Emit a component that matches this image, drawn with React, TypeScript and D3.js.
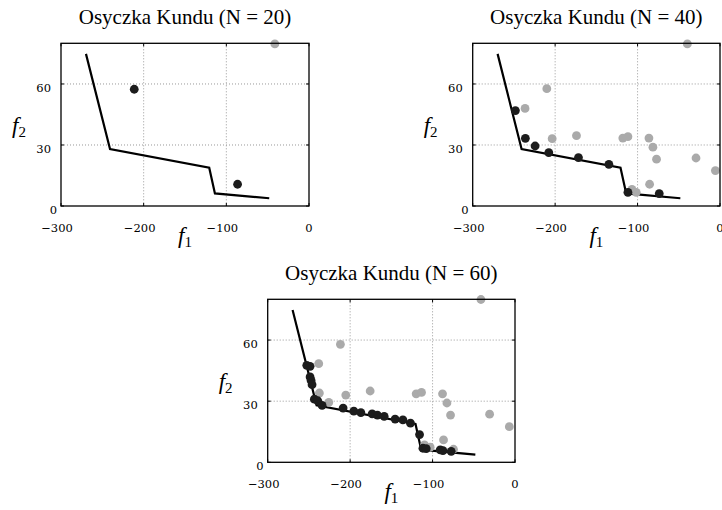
import * as d3 from "d3";

// Pareto front (same in every panel)
const frontF1 = [-269.8, -240.7, -120.7, -113.8, -48.1];
const frontF2 = [74.8, 28.0, 18.8, 6.2, 3.8];

// N = 20
const n20DarkF1 = [-211.4, -86.4];
const n20DarkF2 = [57.4, 10.7];
const n20GrayF1 = [-41.3];
const n20GrayF2 = [79.7];

// N = 40
const n40DarkF1 = [-248.2, -236.1, -224.3, -207.7, -171.7, -134.8, -111.7, -73.7];
const n40DarkF2 = [46.9, 33.3, 29.5, 26.2, 23.8, 20.5, 6.7, 6.1];
const n40GrayF1 = [-39.6, -210.1, -236.5, -203.6, -174.1, -117.9, -111.7, -86.2, -81.4, -77.0, -29.1, -5.6, -85.4, -106.8, -101.6];
const n40GrayF2 = [79.7, 57.7, 48.0, 33.1, 34.6, 33.4, 34.1, 33.4, 28.9, 23.0, 23.6, 17.4, 10.7, 8.2, 6.7];

// N = 60
const n60DarkF1 = [-252.6, -248.6, -248.6, -247.4, -246.2, -243.4, -239.3, -234.0, -208.5, -195.5, -187.0, -173.3, -166.9, -158.7, -145.4, -136.0, -126.8, -115.8, -111.7, -107.7, -90.7, -87.4, -77.4];
const n60DarkF2 = [47.6, 47.1, 41.9, 40.2, 38.1, 31.0, 30.2, 27.9, 26.6, 25.1, 24.4, 23.8, 23.2, 22.5, 21.2, 20.8, 19.2, 13.6, 6.9, 6.7, 6.1, 5.7, 5.4];
const n60GrayF1 = [-41.3, -211.8, -238.1, -237.3, -225.9, -205.3, -175.7, -119.9, -113.4, -87.9, -82.6, -78.2, -30.8, -6.9, -86.7, -109.8, -102.9, -74.6];
const n60GrayF2 = [79.9, 57.9, 48.4, 34.0, 29.4, 33.0, 35.0, 33.6, 34.3, 33.6, 29.1, 23.2, 23.6, 17.5, 11.0, 8.5, 7.4, 6.4];

const xTicks = [-300, -200, -100, 0];
const yTicks = [0, 30, 60];
const xGrid = [-200, -100];
const yGrid = [30, 60];

const panels = [
  { n: 20, left: 61, top: 43.3, w: 248, h: 162.7, dark: [n20DarkF1, n20DarkF2], gray: [n20GrayF1, n20GrayF2] },
  { n: 40, left: 472.7, top: 43.3, w: 247.3, h: 162.7, dark: [n40DarkF1, n40DarkF2], gray: [n40GrayF1, n40GrayF2] },
  { n: 60, left: 267.7, top: 299.3, w: 247.3, h: 163, dark: [n60DarkF1, n60DarkF2], gray: [n60GrayF1, n60GrayF2] },
];

const tickFont = "'DejaVu Serif', serif";
const textFont = "'Liberation Serif', 'Times New Roman', serif";

function fmt(v: number) {
  return v < 0 ? "\u2212" + Math.abs(v) : String(v);
}

function Panel({ p }: { p: (typeof panels)[number] }) {
  const x = d3.scaleLinear().domain([-300, 0]).range([0, p.w]);
  const y = d3.scaleLinear().domain([0, 80]).range([p.h, 0]);
  const line = d3.line<number>().x((_, i) => x(frontF1[i])).y((_, i) => y(frontF2[i]));
  return (
    <g transform={`translate(${p.left},${p.top})`}>
      <text x={p.w / 2} y={-19} textAnchor="middle" fontFamily={textFont} fontSize={21}>
        {`Osyczka Kundu (N = ${p.n})`}
      </text>
      {xGrid.map((v) => (
        <line key={"gx" + v} x1={x(v)} x2={x(v)} y1={0} y2={p.h} stroke="#999" strokeWidth={1} strokeDasharray="1,2" />
      ))}
      {yGrid.map((v) => (
        <line key={"gy" + v} x1={0} x2={p.w} y1={y(v)} y2={y(v)} stroke="#999" strokeWidth={1} strokeDasharray="1,2" />
      ))}
      {xTicks.map((v) => (
        <g key={"tx" + v}>
          <line x1={x(v)} x2={x(v)} y1={p.h} y2={p.h - 3} stroke="#000" />
          <line x1={x(v)} x2={x(v)} y1={0} y2={3} stroke="#000" />
          <text x={x(v)} dx={v < 0 ? -4 : 0} y={p.h + 26} textAnchor="middle" fontFamily={tickFont} fontSize={11.5}>
            {fmt(v)}
          </text>
        </g>
      ))}
      {yTicks.map((v) => (
        <g key={"ty" + v}>
          <line x1={0} x2={3} y1={y(v)} y2={y(v)} stroke="#000" />
          <line x1={p.w} x2={p.w - 3} y1={y(v)} y2={y(v)} stroke="#000" />
          <text x={v === 0 ? -4 : -10} y={y(v) + 8} textAnchor="end" fontFamily={tickFont} fontSize={11.5}>
            {fmt(v)}
          </text>
        </g>
      ))}
      <path d={line(frontF1) || ""} fill="none" stroke="#000" strokeWidth={2.2} strokeLinejoin="miter" />
      {p.gray[0].map((v, i) => (
        <circle key={"g" + i} cx={x(v)} cy={y(p.gray[1][i])} r={4.4} fill="#aaaaaa" />
      ))}
      {p.dark[0].map((v, i) => (
        <circle key={"d" + i} cx={x(v)} cy={y(p.dark[1][i])} r={4.4} fill="#1c1c1c" />
      ))}
      <rect x={0} y={0} width={p.w} height={p.h} fill="none" stroke="#000" strokeWidth={1.3} />
      <text x={-49} y={p.h / 2 + 8} fontFamily={textFont} fontSize={23}>
        <tspan fontStyle="italic">f</tspan>
        <tspan fontSize={15} dy={4}>2</tspan>
      </text>
      <text x={p.w / 2} y={p.h + 37} textAnchor="middle" fontFamily={textFont} fontSize={23}>
        <tspan fontStyle="italic">f</tspan>
        <tspan fontSize={15} dy={4}>1</tspan>
      </text>
    </g>
  );
}

export default function App() {
  return (
    <svg width={722} height={510} style={{ position: "absolute", left: 0, top: 0, background: "#fff" }}>
      {panels.map((p) => (
        <Panel key={p.n} p={p} />
      ))}
    </svg>
  );
}
